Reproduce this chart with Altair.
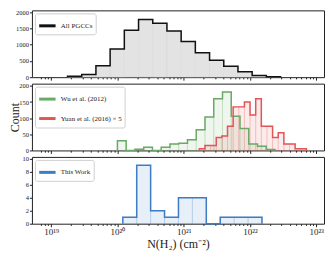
import altair as alt
import pandas as pd

# ---------------- data ----------------
# Histograms in log10 N(H2); uniform bins: first edge + bin width, counts per bin
PGCC_LABEL = "All PGCCs"
PGCC_BIN_START = 19.247
PGCC_BIN_WIDTH = 0.2143
PGCC_COUNTS = [30, 80, 350, 865, 1445, 1780, 1660, 1425, 1100, 750, 525, 340, 170, 55, 12]

WU_LABEL = "Wu et al. (2012)"
WU_BIN_START = 20.0
WU_BIN_WIDTH = 0.1321
WU_COUNTS = [30, 0, 4, 10, 0, 10, 20, 22, 33, 64, 104, 160, 181, 106, 68, 20, 13, 3]

YUAN_LABEL = "Yuan et al. (2016) × 5"
YUAN_BIN_START = 21.236
YUAN_BIN_WIDTH = 0.085
YUAN_COUNTS = [1, 3, 3, 8, 9, 15, 27, 27, 30, 22, 32, 15, 15, 8, 11, 4, 4, 1, 1]
YUAN_SCALE = 5

THIS_LABEL = "This Work"
THIS_BIN_START = 20.081
THIS_BIN_WIDTH = 0.21
THIS_COUNTS = [1, 9, 2, 1, 4, 4, 0, 1, 1, 1]

X_DOMAIN = [6.1e18, 1.1e23]
X_TICK_EXP = [19, 20, 21, 22, 23]
X_TICK_LABELS = ["10¹⁹", "10²⁰", "10²¹", "10²²", "10²³"]
X_TITLE = "N(H₂) (cm⁻²)"
Y_TITLE = "Count"

Y_TICKS_TOP = [0, 500, 1000, 1500, 2000]
Y_TICKS_MID = [0, 50, 100, 150, 200]
Y_TICKS_BOT = [0, 2, 4, 6, 8, 10]
Y_MAX_TOP = 2060
Y_MAX_MID = 207
Y_MAX_BOT = 10.3

FONT = "Liberation Serif"
W = 293
H = 67


def edges(start, width, n):
    return [10 ** (start + i * width) for i in range(n + 1)]


def bars_df(label, start, width, counts):
    e = edges(start, width, len(counts))
    return pd.DataFrame({"lo": e[:-1], "hi": e[1:], "count": counts,
                         "base": [0] * len(counts), "series": label})


def step_df(label, start, width, counts):
    e = edges(start, width, len(counts))
    xs, ys = [e[0]], [0]
    for i, c in enumerate(counts):
        xs += [e[i], e[i + 1]]
        ys += [c, c]
    xs.append(e[-1])
    ys.append(0)
    return pd.DataFrame({"x": xs, "count": ys, "order": list(range(len(xs))), "series": label})


major_vals = [10.0 ** k for k in X_TICK_EXP]
minor_vals = [m * 10.0 ** k for k in range(18, 23) for m in range(2, 10)
              if X_DOMAIN[0] <= m * 10.0 ** k <= X_DOMAIN[1]]

label_expr = "''"
for k, lab in zip(reversed(X_TICK_EXP), reversed(X_TICK_LABELS)):
    label_expr = f"(abs(log(datum.value)/LN10 - {k}) < 0.1) ? '{lab}' : " + label_expr

xscale = alt.Scale(type="log", domain=X_DOMAIN, nice=False)


def panel(series, ymax, yticks, ytitle, bottom):
    # series: list of (label, start, width, counts, line_color, fill_color, fill_opacity, edge_color)
    major_axis = alt.Axis(
        orient="bottom", values=major_vals, tickSize=3, tickColor="#222", domain=False,
        grid=False, labels=bottom, labelExpr=label_expr, labelFont=FONT, labelFontSize=9,
        labelColor="#222", labelPadding=1, labelFlush=False, labelOverlap=False,
        title=X_TITLE if bottom else None, titleFont=FONT, titleFontSize=12,
        titleFontWeight="normal", titleColor="#222", titlePadding=2,
    )
    minor_axis = alt.Axis(
        orient="bottom", values=minor_vals, tickSize=1.7, tickColor="#222", domain=False,
        grid=False, labels=False, title=None,
    )
    yaxis = alt.Axis(
        values=yticks, format="d", tickSize=2.5, tickColor="#222", domain=False, grid=False,
        labelFont=FONT, labelFontSize=6.5, labelColor="#222", labelPadding=1,
        labelFlush=False, title=ytitle, titleFont=FONT, titleFontSize=12,
        titleFontWeight="normal", titleColor="#222", titlePadding=-3,
    )
    yscale = alt.Scale(domain=[0, ymax], nice=False, zero=True)

    layers = []
    first = True
    for (lab, s, w, c, lc, fc, fo, ec) in series:
        bd = bars_df(lab, s, w, c)
        layers.append(
            alt.Chart(bd).mark_bar(fill=fc, fillOpacity=fo, stroke=ec, strokeOpacity=0.3,
                                   strokeWidth=0.5, orient="vertical").encode(
                x=alt.X("lo:Q", scale=xscale, axis=major_axis if first else None),
                x2="hi:Q",
                y=alt.Y("count:Q", scale=yscale, axis=yaxis),
                y2="base:Q",
            )
        )
        first = False

    sd = pd.concat([step_df(t[0], t[1], t[2], t[3]) for t in series])
    labels = [t[0] for t in series]
    colors = [t[4] for t in series]
    line = alt.Chart(sd).mark_line(strokeWidth=1.5).encode(
        x=alt.X("x:Q", scale=xscale, axis=minor_axis),
        y=alt.Y("count:Q", scale=yscale, axis=yaxis),
        order="order:Q",
        color=alt.Color(
            "series:N", scale=alt.Scale(domain=labels, range=colors),
            legend=alt.Legend(
                orient="top-left", title=None, symbolType="stroke", symbolStrokeWidth=3,
                symbolSize=270, symbolOpacity=1, labelFont=FONT, labelFontSize=7,
                labelColor="#222", labelOffset=3.5, padding=2.5, rowPadding=3.5,
                offset=3, strokeColor="#cfcfcf", fillColor="white", cornerRadius=2,
            ),
        ),
    )
    layers.append(line)
    return alt.layer(*layers).resolve_axis(x="independent").properties(width=W, height=H)


top = panel([(PGCC_LABEL, PGCC_BIN_START, PGCC_BIN_WIDTH, PGCC_COUNTS,
              "#111111", "#e3e3e3", 1.0, "#bdbdbd")],
            Y_MAX_TOP, Y_TICKS_TOP, None, False)
mid = panel([
    (WU_LABEL, WU_BIN_START, WU_BIN_WIDTH, WU_COUNTS, "#6aaa66", "#5ea35a", 0.1, "#5ea35a"),
    (YUAN_LABEL, YUAN_BIN_START, YUAN_BIN_WIDTH, [v * YUAN_SCALE for v in YUAN_COUNTS],
     "#e25656", "#e04848", 0.11, "#e04848"),
], Y_MAX_MID, Y_TICKS_MID, Y_TITLE, False)
bot = panel([(THIS_LABEL, THIS_BIN_START, THIS_BIN_WIDTH, THIS_COUNTS,
              "#3f7cc4", "#3a78c4", 0.12, "#3a78c4")],
            Y_MAX_BOT, Y_TICKS_BOT, None, True)

chart = alt.vconcat(
    top, mid, bot, spacing=6.5, bounds="flush", padding=0,
).resolve_scale(color="independent").resolve_legend(color="independent").configure_view(
    stroke="#222", strokeWidth=1
)

chart.save("out.html", embed_options={"renderer": "svg", "actions": False})
